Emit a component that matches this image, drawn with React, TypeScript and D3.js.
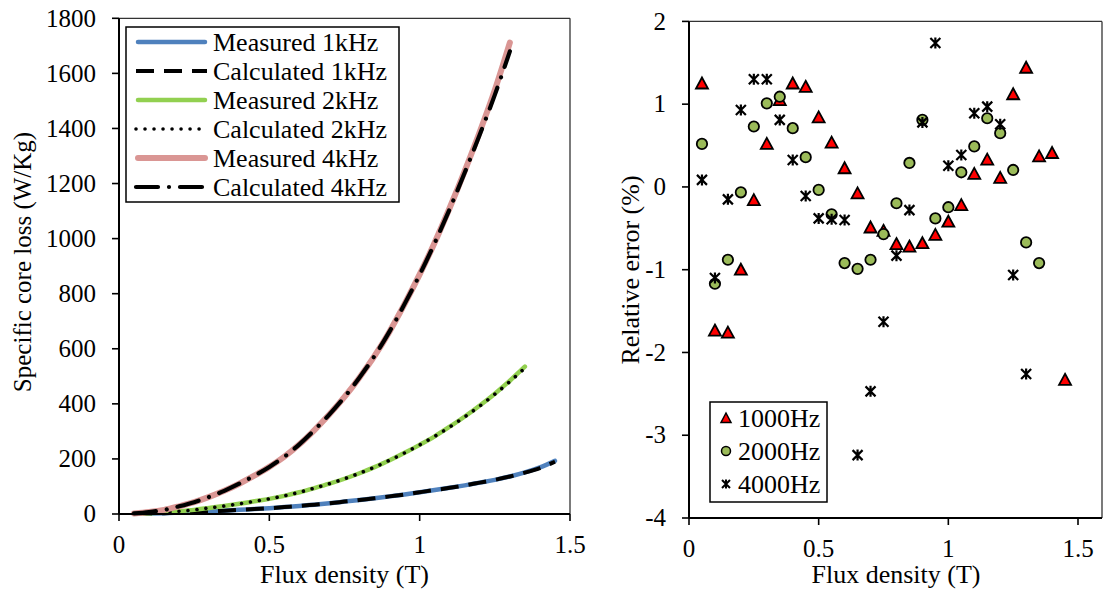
import React, { useEffect } from 'react';
import * as d3 from 'd3';

// ---------- DATA ----------
const fluxB = [0.05, 0.10, 0.15, 0.20, 0.25, 0.30, 0.35, 0.40, 0.45, 0.50, 0.55, 0.60, 0.65, 0.70, 0.75, 0.80, 0.85, 0.90, 0.95, 1.00, 1.05, 1.10, 1.15, 1.20, 1.25, 1.30, 1.35, 1.40, 1.45];

const measured1k = [0.5, 1.5, 3, 5, 7, 9, 12, 15, 18, 21, 25, 29, 34, 39, 45, 51, 57, 64, 71, 79, 87, 95, 104, 114, 124, 136, 151, 169, 193];
const calculated1k = [0.5, 1.5, 3, 5, 7, 9, 12, 15, 18, 21, 25, 29, 34, 39, 45, 51, 57, 64, 71, 79, 87, 95, 104, 114, 124, 136, 150, 167, 190];
const measured2k = [1, 3, 6, 10, 15, 22, 29, 37, 46, 55, 66, 79, 94, 110, 128, 148, 170, 195, 222, 251, 282, 317, 354, 394, 437, 484, 535];
const calculated2k = [1, 3, 6, 10, 15, 22, 29, 37, 46, 55, 66, 79, 94, 110, 128, 148, 170, 195, 222, 251, 282, 316, 353, 392, 435, 481, 530];
const measured4k = [2, 7, 15, 28, 43, 62, 84, 110, 139, 171, 208, 253, 305, 362, 425, 496, 574, 663, 763, 870, 986, 1112, 1246, 1388, 1540, 1712];
const calculated4k = [2, 7, 15, 28, 43, 62, 84, 110, 139, 171, 208, 253, 305, 362, 425, 496, 574, 663, 763, 869, 984, 1108, 1240, 1378, 1522, 1680];

const err1000Hz = [1.25, -1.735, -1.76, -1.0, -0.16, 0.52, 1.05, 1.25, 1.21, 0.84, 0.535, 0.226, -0.077, -0.49, -0.53, -0.69, -0.72, -0.68, -0.58, -0.42, -0.22, 0.157, 0.33, 0.11, 1.12, 1.44, 0.37, 0.41, -2.33];
const err2000Hz = [0.52, -1.17, -0.88, -0.065, 0.73, 1.01, 1.09, 0.71, 0.36, -0.036, -0.33, -0.92, -0.99, -0.88, -0.57, -0.197, 0.29, 0.81, -0.38, -0.245, 0.177, 0.49, 0.83, 0.65, 0.205, -0.67, -0.92];
const err4000Hz = [0.085, -1.10, -0.15, 0.93, 1.30, 1.30, 0.81, 0.326, -0.109, -0.38, -0.39, -0.40, -3.24, -2.47, -1.63, -0.83, -0.28, 0.78, 1.74, 0.257, 0.386, 0.89, 0.97, 0.757, -1.063, -2.26];

const lossTicks = [0, 200, 400, 600, 800, 1000, 1200, 1400, 1600, 1800];
const fluxTicks = [0, 0.5, 1, 1.5];
const errTicks = [-4, -3, -2, -1, 0, 1, 2];

const lossLegend = ['Measured 1kHz', 'Calculated 1kHz', 'Measured 2kHz', 'Calculated 2kHz', 'Measured 4kHz', 'Calculated 4kHz'];
const errLegend = ['1000Hz', '2000Hz', '4000Hz'];

// ---------- STYLE ----------
const FONT = '"Liberation Serif", "Times New Roman", serif';
const BLUE = '#4F81BD';
const GREEN = '#92D050';
const PINK = '#DA9694';
const RED = '#FF0000';
const OLIVE = '#9BBB59';

type Sty = { stroke: string; width: number; dash?: string; cap: 'round' | 'butt' };
const lineStyles: Sty[] = [
  { stroke: BLUE, width: 4.5, cap: 'round' },
  { stroke: '#000', width: 4, dash: '18,10', cap: 'butt' },
  { stroke: GREEN, width: 4.5, cap: 'round' },
  { stroke: '#000', width: 3.6, dash: '0.01,9', cap: 'round' },
  { stroke: PINK, width: 6, cap: 'round' },
  { stroke: '#000', width: 4.2, dash: '22,11,0.01,11', cap: 'round' },
];

const starPath = 'M-5,-5L5,5M-5,5L5,-5M0,-5.5L0,5.5';
const triPath = 'M0,-6L6,5L-6,5Z';

export default function App() {
  useEffect(() => {
    document.body.style.margin = '0';
  }, []);

  const xL = d3.scaleLinear().domain([0, 1.5]).range([119, 570]);
  const yL = d3.scaleLinear().domain([0, 1800]).range([514, 18.3]);
  const xR = d3.scaleLinear().domain([0, 1.5]).range([689, 1078]);
  const yR = d3.scaleLinear().domain([-4, 2]).range([518, 21.4]);
  const rightEdge = 1102;

  const line = d3
    .line<[number, number]>()
    .x((d) => xL(d[0]))
    .y((d) => yL(d[1]))
    .curve(d3.curveMonotoneX);

  const series = [measured1k, calculated1k, measured2k, calculated2k, measured4k, calculated4k];
  const paths = series.map((vals) => line(vals.map((v, i) => [fluxB[i], v] as [number, number])) || '');

  const legX = 126, legY = 27, legW = 273, legH = 175, legRow = 29;
  const rlegX = 710, rlegY = 402, rlegW = 117, rlegH = 100, rlegRow = 33;

  return (
    <svg width={1103} height={593} style={{ position: 'absolute', left: 0, top: 0, background: '#fff' }} fontFamily={FONT}>
      <rect x={0} y={0} width={1103} height={593} fill="#fff" />
      {/* ===== LEFT CHART ===== */}
      <line x1={xL(0)} x2={xL(1.5)} y1={yL(1800)} y2={yL(1800)} stroke="#333" strokeWidth={1.3} />
      <line x1={xL(1.5)} x2={xL(1.5)} y1={yL(1800)} y2={yL(0)} stroke="#333" strokeWidth={1.3} />
      {paths.map((d, i) => (
        <path key={i} d={d} fill="none" stroke={lineStyles[i].stroke} strokeWidth={lineStyles[i].width}
          strokeDasharray={lineStyles[i].dash} strokeLinecap={lineStyles[i].cap} strokeLinejoin="round" />
      ))}
      <line x1={xL(0)} x2={xL(0)} y1={yL(1800)} y2={yL(0)} stroke="#000" strokeWidth={2} />
      <line x1={xL(0)} x2={xL(1.5)} y1={yL(0)} y2={yL(0)} stroke="#000" strokeWidth={2} />
      {lossTicks.map((t) => (
        <g key={'ly' + t}>
          <line x1={xL(0) - 7} x2={xL(0)} y1={yL(t)} y2={yL(t)} stroke="#000" strokeWidth={1.6} />
          <text x={96} y={yL(t)} dy="0.33em" textAnchor="end" fontSize={25}>{t}</text>
        </g>
      ))}
      {fluxTicks.map((t) => (
        <g key={'lx' + t}>
          <line x1={xL(t)} x2={xL(t)} y1={yL(0)} y2={yL(0) + 7} stroke="#000" strokeWidth={1.6} />
          <text x={xL(t)} y={553} textAnchor="middle" fontSize={25}>{String(t)}</text>
        </g>
      ))}
      <text x={(xL(0) + xL(1.5)) / 2} y={583} textAnchor="middle" fontSize={26}>Flux density (T)</text>
      <text transform="translate(31,262) rotate(-90)" textAnchor="middle" fontSize={25}>Specific core loss (W/Kg)</text>
      <rect x={legX} y={legY} width={legW} height={legH} fill="#fff" stroke="#000" strokeWidth={1.5} />
      {lossLegend.map((name, i) => {
        const cy = legY + 15 + i * legRow;
        const s = lineStyles[i];
        return (
          <g key={name}>
            <line x1={legX + 10 + (s.cap === 'round' && !s.dash ? 2 : 0)} x2={legX + 81 - (s.cap === 'round' && !s.dash ? 2 : 0)} y1={cy} y2={cy}
              stroke={s.stroke} strokeWidth={s.width} strokeDasharray={s.dash} strokeLinecap={s.cap} />
            <text x={legX + 87} y={cy} dy="0.33em" fontSize={26}>{name}</text>
          </g>
        );
      })}

      {/* ===== RIGHT CHART ===== */}
      <line x1={xR(0)} x2={rightEdge} y1={yR(2)} y2={yR(2)} stroke="#333" strokeWidth={1.3} />
      <line x1={rightEdge} x2={rightEdge} y1={yR(2)} y2={yR(-4)} stroke="#333" strokeWidth={1.3} />
      <line x1={xR(0)} x2={xR(0)} y1={yR(2)} y2={yR(-4)} stroke="#000" strokeWidth={2} />
      <line x1={xR(0)} x2={rightEdge} y1={yR(-4)} y2={yR(-4)} stroke="#000" strokeWidth={2} />
      {errTicks.map((t) => (
        <g key={'ry' + t}>
          <line x1={xR(0) - 7} x2={xR(0)} y1={yR(t)} y2={yR(t)} stroke="#000" strokeWidth={1.6} />
          <text x={666} y={yR(t)} dy="0.33em" textAnchor="end" fontSize={25}>{t < 0 ? '-' + Math.abs(t) : String(t)}</text>
        </g>
      ))}
      {fluxTicks.map((t) => (
        <g key={'rx' + t}>
          <line x1={xR(t)} x2={xR(t)} y1={yR(-4)} y2={yR(-4) + 7} stroke="#000" strokeWidth={1.6} />
          <text x={xR(t)} y={557} textAnchor="middle" fontSize={25}>{String(t)}</text>
        </g>
      ))}
      <text x={896} y={583} textAnchor="middle" fontSize={26}>Flux density (T)</text>
      <text transform="translate(639,270) rotate(-90)" textAnchor="middle" fontSize={26}>Relative error (%)</text>

      {err1000Hz.map((v, i) => (
        <path key={'t' + i} d={triPath} transform={`translate(${xR(fluxB[i])},${yR(v)})`} fill={RED} stroke="#000" strokeWidth={1.8} strokeLinejoin="miter" />
      ))}
      {err2000Hz.map((v, i) => (
        <circle key={'c' + i} cx={xR(fluxB[i])} cy={yR(v)} r={5.2} fill={OLIVE} stroke="#000" strokeWidth={1.8} />
      ))}
      {err4000Hz.map((v, i) => (
        <path key={'s' + i} d={starPath} transform={`translate(${xR(fluxB[i])},${yR(v)})`} fill="none" stroke="#000" strokeWidth={2.2} />
      ))}

      <rect x={rlegX} y={rlegY} width={rlegW} height={rlegH} fill="#fff" stroke="#000" strokeWidth={1.5} />
      {errLegend.map((name, i) => {
        const cy = rlegY + 16 + i * rlegRow;
        const mx = rlegX + 16;
        return (
          <g key={name}>
            {i === 0 && <path d="M0,-5L5,4.5L-5,4.5Z" transform={`translate(${mx},${cy})`} fill={RED} stroke="#000" strokeWidth={1.5} />}
            {i === 1 && <circle cx={mx} cy={cy} r={4.5} fill={OLIVE} stroke="#000" strokeWidth={1.5} />}
            {i === 2 && <path d="M-4,-4L4,4M-4,4L4,-4M0,-4.5L0,4.5" transform={`translate(${mx},${cy})`} fill="none" stroke="#000" strokeWidth={2} />}
            <text x={rlegX + 28} y={cy} dy="0.33em" fontSize={26}>{name}</text>
          </g>
        );
      })}
    </svg>
  );
}
